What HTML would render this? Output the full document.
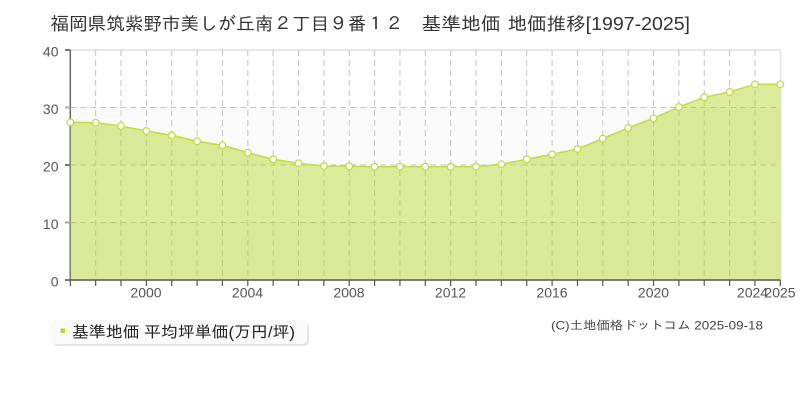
<!DOCTYPE html>
<html>
<head>
<meta charset="utf-8">
<style>
html,body{margin:0;padding:0;background:#fff;}
svg{display:block;}
text{font-family:"Liberation Sans","IPAGothic","Noto Sans CJK JP",sans-serif;}
</style>
</head>
<body>
<svg width="800" height="400" viewBox="0 0 800 400" xmlns="http://www.w3.org/2000/svg">
<rect x="0" y="0" width="800" height="400" fill="#fff"/>
<!-- title -->
<g fill="#333" font-size="18">
<text x="50.5" y="30" textLength="353" lengthAdjust="spacingAndGlyphs">福岡県筑紫野市美しが丘南２丁目９番１２</text>
<text x="421.5" y="30" textLength="79" lengthAdjust="spacingAndGlyphs">基準地価</text>
<text x="507.5" y="30" textLength="182.5" lengthAdjust="spacingAndGlyphs">地価推移[1997-2025]</text>
</g>
<!-- bands -->
<rect x="70.3" y="107.5" width="710" height="57.5" fill="#fafafa"/>
<rect x="70.3" y="222.5" width="710" height="57.5" fill="#fafafa"/>
<!-- top & right border -->
<line x1="70.3" y1="50" x2="780.3" y2="50" stroke="#dddddd" stroke-width="1.5"/>
<line x1="780.6" y1="50" x2="780.6" y2="280" stroke="#e2e2e2" stroke-width="1.5"/>
<!-- grid -->
<g stroke="#c4c4c4" stroke-width="1" stroke-dasharray="6,4" fill="none">
<line x1="70.3" y1="107.5" x2="780.3" y2="107.5"/>
<line x1="70.3" y1="165" x2="780.3" y2="165"/>
<line x1="70.3" y1="222.5" x2="780.3" y2="222.5"/>
<line x1="95.66" y1="50" x2="95.66" y2="280"/>
<line x1="121.01" y1="50" x2="121.01" y2="280"/>
<line x1="146.37" y1="50" x2="146.37" y2="280"/>
<line x1="171.73" y1="50" x2="171.73" y2="280"/>
<line x1="197.09" y1="50" x2="197.09" y2="280"/>
<line x1="222.44" y1="50" x2="222.44" y2="280"/>
<line x1="247.8" y1="50" x2="247.8" y2="280"/>
<line x1="273.16" y1="50" x2="273.16" y2="280"/>
<line x1="298.51" y1="50" x2="298.51" y2="280"/>
<line x1="323.87" y1="50" x2="323.87" y2="280"/>
<line x1="349.23" y1="50" x2="349.23" y2="280"/>
<line x1="374.59" y1="50" x2="374.59" y2="280"/>
<line x1="399.94" y1="50" x2="399.94" y2="280"/>
<line x1="425.3" y1="50" x2="425.3" y2="280"/>
<line x1="450.66" y1="50" x2="450.66" y2="280"/>
<line x1="476.01" y1="50" x2="476.01" y2="280"/>
<line x1="501.37" y1="50" x2="501.37" y2="280"/>
<line x1="526.73" y1="50" x2="526.73" y2="280"/>
<line x1="552.09" y1="50" x2="552.09" y2="280"/>
<line x1="577.44" y1="50" x2="577.44" y2="280"/>
<line x1="602.8" y1="50" x2="602.8" y2="280"/>
<line x1="628.16" y1="50" x2="628.16" y2="280"/>
<line x1="653.51" y1="50" x2="653.51" y2="280"/>
<line x1="678.87" y1="50" x2="678.87" y2="280"/>
<line x1="704.23" y1="50" x2="704.23" y2="280"/>
<line x1="729.59" y1="50" x2="729.59" y2="280"/>
<line x1="754.94" y1="50" x2="754.94" y2="280"/>
</g>
<!-- left axis -->
<line x1="70.3" y1="50" x2="70.3" y2="280" stroke="#666" stroke-width="1.5"/>
<!-- y ticks -->
<g stroke-width="2">
<line x1="65" y1="50" x2="70.3" y2="50" stroke="#777"/>
<line x1="65" y1="107.5" x2="70.3" y2="107.5" stroke="#aaa"/>
<line x1="65" y1="165" x2="70.3" y2="165" stroke="#777"/>
<line x1="65" y1="222.5" x2="70.3" y2="222.5" stroke="#aaa"/>
<line x1="65" y1="280" x2="70.3" y2="280" stroke="#777"/>
</g>
<!-- area -->
<polygon fill="rgba(182,215,45,0.48)" points="70.3,280 70.3,122.3 95.66,122.7 121.01,126 146.37,131 171.73,135.3 197.09,141.3 222.44,145.3 247.8,152.7 273.16,159.3 298.51,163.3 323.87,166 349.23,166.3 374.59,166.7 399.94,166.7 425.3,166.7 450.66,166.7 476.01,166.7 501.37,164.3 526.73,159.3 552.09,154.3 577.44,149 602.8,138.5 628.16,128 653.51,118.3 678.87,107 704.23,97.3 729.59,92 754.94,84.3 780.3,84.3 780.3,280"/>
<polyline fill="none" stroke="#c3de42" stroke-width="1.6" points="70.3,122.3 95.66,122.7 121.01,126 146.37,131 171.73,135.3 197.09,141.3 222.44,145.3 247.8,152.7 273.16,159.3 298.51,163.3 323.87,166 349.23,166.3 374.59,166.7 399.94,166.7 425.3,166.7 450.66,166.7 476.01,166.7 501.37,164.3 526.73,159.3 552.09,154.3 577.44,149 602.8,138.5 628.16,128 653.51,118.3 678.87,107 704.23,97.3 729.59,92 754.94,84.3 780.3,84.3"/>
<!-- bottom axis -->
<line x1="70.3" y1="280" x2="780.3" y2="280" stroke="#555" stroke-width="1.5"/>
<g stroke="#555" stroke-width="1.2">
<line x1="70.3" y1="280" x2="70.3" y2="286"/>
<line x1="95.66" y1="280" x2="95.66" y2="286"/>
<line x1="121.01" y1="280" x2="121.01" y2="286"/>
<line x1="146.37" y1="280" x2="146.37" y2="286"/>
<line x1="171.73" y1="280" x2="171.73" y2="286"/>
<line x1="197.09" y1="280" x2="197.09" y2="286"/>
<line x1="222.44" y1="280" x2="222.44" y2="286"/>
<line x1="247.8" y1="280" x2="247.8" y2="286"/>
<line x1="273.16" y1="280" x2="273.16" y2="286"/>
<line x1="298.51" y1="280" x2="298.51" y2="286"/>
<line x1="323.87" y1="280" x2="323.87" y2="286"/>
<line x1="349.23" y1="280" x2="349.23" y2="286"/>
<line x1="374.59" y1="280" x2="374.59" y2="286"/>
<line x1="399.94" y1="280" x2="399.94" y2="286"/>
<line x1="425.3" y1="280" x2="425.3" y2="286"/>
<line x1="450.66" y1="280" x2="450.66" y2="286"/>
<line x1="476.01" y1="280" x2="476.01" y2="286"/>
<line x1="501.37" y1="280" x2="501.37" y2="286"/>
<line x1="526.73" y1="280" x2="526.73" y2="286"/>
<line x1="552.09" y1="280" x2="552.09" y2="286"/>
<line x1="577.44" y1="280" x2="577.44" y2="286"/>
<line x1="602.8" y1="280" x2="602.8" y2="286"/>
<line x1="628.16" y1="280" x2="628.16" y2="286"/>
<line x1="653.51" y1="280" x2="653.51" y2="286"/>
<line x1="678.87" y1="280" x2="678.87" y2="286"/>
<line x1="704.23" y1="280" x2="704.23" y2="286"/>
<line x1="729.59" y1="280" x2="729.59" y2="286"/>
<line x1="754.94" y1="280" x2="754.94" y2="286"/>
<line x1="780.3" y1="280" x2="780.3" y2="286"/>
</g>
<!-- markers -->
<g fill="#fff" stroke="#c3de42" stroke-width="1.3">
<circle cx="70.3" cy="122.3" r="3.3"/>
<circle cx="95.66" cy="122.7" r="3.3"/>
<circle cx="121.01" cy="126" r="3.3"/>
<circle cx="146.37" cy="131" r="3.3"/>
<circle cx="171.73" cy="135.3" r="3.3"/>
<circle cx="197.09" cy="141.3" r="3.3"/>
<circle cx="222.44" cy="145.3" r="3.3"/>
<circle cx="247.8" cy="152.7" r="3.3"/>
<circle cx="273.16" cy="159.3" r="3.3"/>
<circle cx="298.51" cy="163.3" r="3.3"/>
<circle cx="323.87" cy="166" r="3.3"/>
<circle cx="349.23" cy="166.3" r="3.3"/>
<circle cx="374.59" cy="166.7" r="3.3"/>
<circle cx="399.94" cy="166.7" r="3.3"/>
<circle cx="425.3" cy="166.7" r="3.3"/>
<circle cx="450.66" cy="166.7" r="3.3"/>
<circle cx="476.01" cy="166.7" r="3.3"/>
<circle cx="501.37" cy="164.3" r="3.3"/>
<circle cx="526.73" cy="159.3" r="3.3"/>
<circle cx="552.09" cy="154.3" r="3.3"/>
<circle cx="577.44" cy="149" r="3.3"/>
<circle cx="602.8" cy="138.5" r="3.3"/>
<circle cx="628.16" cy="128" r="3.3"/>
<circle cx="653.51" cy="118.3" r="3.3"/>
<circle cx="678.87" cy="107" r="3.3"/>
<circle cx="704.23" cy="97.3" r="3.3"/>
<circle cx="729.59" cy="92" r="3.3"/>
<circle cx="754.94" cy="84.3" r="3.3"/>
<circle cx="780.3" cy="84.3" r="3.3"/>
</g>
<!-- y labels -->
<g fill="#555" font-size="14" text-anchor="end">
<text x="58.5" y="56.5">40</text>
<text x="58.5" y="114">30</text>
<text x="58.5" y="171.5">20</text>
<text x="58.5" y="229">10</text>
<text x="58.5" y="286.5">0</text>
</g>
<!-- x labels -->
<g fill="#555" font-size="14" text-anchor="middle">
<text x="146" y="297.5">2000</text>
<text x="247.5" y="297.5">2004</text>
<text x="349" y="297.5">2008</text>
<text x="450.5" y="297.5">2012</text>
<text x="552" y="297.5">2016</text>
<text x="653.5" y="297.5">2020</text>
<text x="752.5" y="297.5">2024</text>
<text x="780" y="297.5">2025</text>
</g>
<!-- legend -->
<rect x="53" y="322" width="256" height="24" rx="5" fill="#e6e6e6"/>
<rect x="51" y="320" width="256" height="24" rx="5" fill="#fafafa"/>
<rect x="60.5" y="328.5" width="4.5" height="4.5" fill="#b8d82c"/>
<text x="72" y="337.5" font-size="16" fill="#222" textLength="223" lengthAdjust="spacingAndGlyphs">基準地価 平均坪単価(万円/坪)</text>
<!-- copyright -->
<text x="551" y="329.5" font-size="12" fill="#444" textLength="212" lengthAdjust="spacingAndGlyphs">(C)土地価格ドットコム 2025-09-18</text>
</svg>
</body>
</html>
